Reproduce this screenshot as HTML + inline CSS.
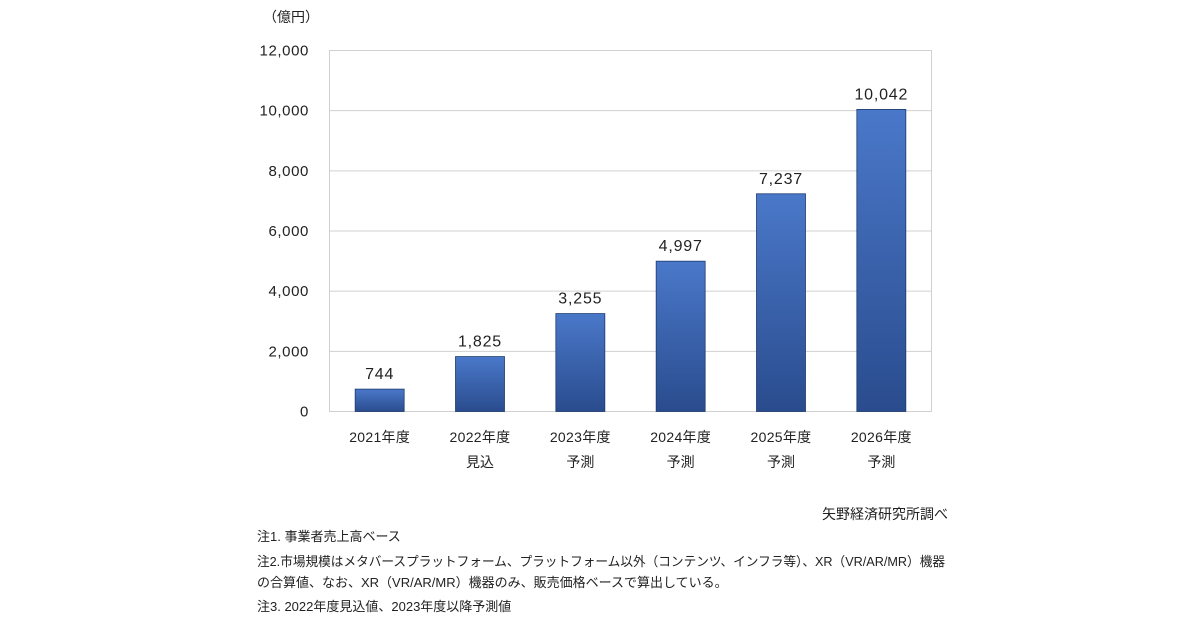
<!DOCTYPE html>
<html><head><meta charset="utf-8">
<style>
body{margin:0;background:#fff;width:1200px;height:630px;overflow:hidden;font-family:"Liberation Sans","Noto Sans CJK JP",sans-serif;color:#222}
svg text{font-family:"Liberation Sans","Noto Sans CJK JP",sans-serif;fill:#222}
</style></head><body>
<svg id="chart" width="1200" height="630" xmlns="http://www.w3.org/2000/svg">
<defs>
<linearGradient id="bg" x1="0" y1="0" x2="0" y2="1">
<stop offset="0" stop-color="#4a78c9"/><stop offset="1" stop-color="#2a4c8e"/>
</linearGradient>
</defs>
<text x="263" y="22" font-size="14">（億円）</text>
<rect x="329.5" y="50.5" width="602" height="361" fill="none" stroke="#d0d0d0"/>
<g id="grid"></g><g id="bars"></g>
<text x="948" y="519" font-size="14" text-anchor="end">矢野経済研究所調べ</text>
<g font-size="13">
<text x="257" y="541">注1. 事業者売上高ベース</text>
<text x="257" y="566" textLength="688" lengthAdjust="spacingAndGlyphs">注2.市場規模はメタバースプラットフォーム、プラットフォーム以外（コンテンツ、インフラ等）、XR（VR/AR/MR）機器</text>
<text x="257" y="587">の合算値、なお、XR（VR/AR/MR）機器のみ、販売価格ベースで算出している。</text>
<text x="257" y="611">注3. 2022年度見込値、2023年度以降予測値</text>
</g>
</svg>
<script>
const categories=["2021年度","2022年度","2023年度","2024年度","2025年度","2026年度"];
const subLabels=["","見込","予測","予測","予測","予測"];
const values=[744,1825,3255,4997,7237,10042];
const yTicks=[0,2000,4000,6000,8000,10000,12000];
const NS="http://www.w3.org/2000/svg";
const L=329.5,R=931.5,T=50.5,B=411.5,yMax=12000;
const y=v=>B-(v/yMax)*(B-T);
const band=(R-L)/categories.length;
const x=i=>L+band*(i+0.5);
function mk(t,a,p){const e=document.createElementNS(NS,t);for(const k in a)e.setAttribute(k,a[k]);p.appendChild(e);return e;}
const grid=document.getElementById('grid'),bars=document.getElementById('bars');
yTicks.forEach(v=>{
  if(v>0&&v<yMax){const l=mk('line',{x1:L,x2:R,y1:y(v),y2:y(v),stroke:'#d0d0d0'},grid);
  
  }
  const t=mk('text',{x:309,y:y(v)+5,'font-size':15,'letter-spacing':0.6,'text-anchor':'end'},grid);t.textContent=v.toLocaleString('en-US');
  
  
});
values.forEach((v,i)=>{
  const w=49;
  const r=mk('rect',{x:x(i)-w/2,y:y(v),width:w,height:B-y(v),fill:'url(#bg)',stroke:'#1e3a70','stroke-width':0.8},bars);
  
  
  const t=mk('text',{x:x(i),y:y(v)-10,'font-size':16,'letter-spacing':0.8,'text-anchor':'middle'},bars);t.textContent=v.toLocaleString('en-US');
  
  
  const c=mk('text',{x:x(i),y:442,'font-size':14,'letter-spacing':0.3,'text-anchor':'middle'},bars);c.textContent=categories[i];
  
  
  if(subLabels[i]){const s=mk('text',{x:x(i),y:467,'font-size':14,'text-anchor':'middle'},bars);s.textContent=subLabels[i];
  
  }
});
</script>
</body></html>
